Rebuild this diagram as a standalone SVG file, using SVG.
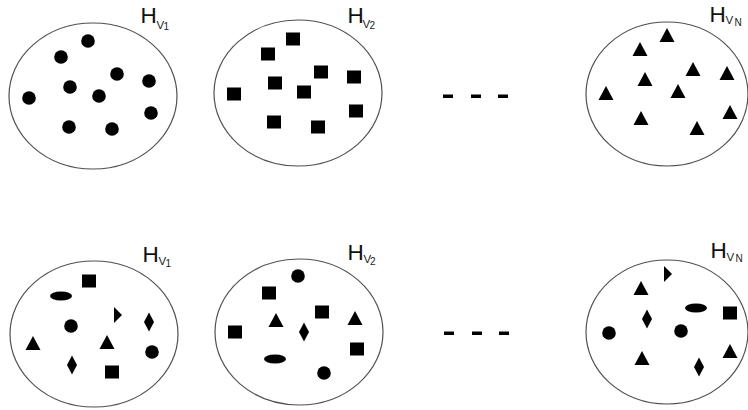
<svg xmlns="http://www.w3.org/2000/svg" xmlns:xlink="http://www.w3.org/1999/xlink" width="748" height="410" viewBox="0 0 748 410">
<style>
.set{fill:#fff;stroke:#505050;stroke-width:1.2}
.h{font-family:"Liberation Sans",Arial,sans-serif;font-size:22.5px;fill:#111}
.v{font-family:"Liberation Sans",Arial,sans-serif;font-size:11.5px;fill:#222}
.s{font-family:"Liberation Sans",Arial,sans-serif;font-size:10px;fill:#222}
.dash{fill:#000}
</style>
<defs>
<circle id="dot" r="6.8" fill="#000"/>
<rect id="sq" x="-7" y="-6.5" width="14" height="13" fill="#000"/>
<polygon id="tri" points="0,-7 7.5,7 -7.5,7" fill="#000"/>
<polygon id="dia" points="0,-9.5 5,0 0,9.5 -5,0" fill="#000"/>
<polygon id="arr" points="-4,-8 4,0 -4,8" fill="#000"/>
<ellipse id="ell" rx="11" ry="4.5" fill="#000"/>
</defs>
<rect width="748" height="410" fill="#fff"/>

<g id="set-top-1">
<ellipse class="set" cx="93" cy="96" rx="84" ry="73"/>
<text class="h" x="140.5" y="23">H</text><text class="v" x="156.5" y="29">V</text><text class="s" x="163.5" y="29.5">1</text>
<use href="#dot" x="88" y="41"/><use href="#dot" x="61" y="57"/><use href="#dot" x="117" y="74"/>
<use href="#dot" x="149" y="81"/><use href="#dot" x="70" y="87"/><use href="#dot" x="99" y="96"/>
<use href="#dot" x="29" y="98"/><use href="#dot" x="151" y="113"/><use href="#dot" x="69" y="127"/>
<use href="#dot" x="112" y="129"/>
</g>

<g id="set-top-2">
<ellipse class="set" cx="298" cy="93" rx="84" ry="73"/>
<text class="h" x="347.5" y="23">H</text><text class="v" x="362.5" y="28">V</text><text class="s" x="369.5" y="28.5">2</text>
<use href="#sq" x="293" y="39"/><use href="#sq" x="268" y="54"/><use href="#sq" x="321" y="72"/>
<use href="#sq" x="354" y="77"/><use href="#sq" x="275" y="83"/><use href="#sq" x="304" y="92"/>
<use href="#sq" x="234" y="94"/><use href="#sq" x="356" y="111"/><use href="#sq" x="274" y="122"/>
<use href="#sq" x="318" y="127"/>
</g>

<g id="set-top-n">
<ellipse class="set" cx="667" cy="94" rx="81" ry="72"/>
<text class="h" x="709.5" y="22">H</text><text class="v" x="725.5" y="24">V</text><text class="s" x="734.5" y="25.5">N</text>
<use href="#tri" x="667" y="35"/><use href="#tri" x="640" y="49"/><use href="#tri" x="693" y="69"/>
<use href="#tri" x="727" y="73"/><use href="#tri" x="645" y="79"/><use href="#tri" x="678" y="91"/>
<use href="#tri" x="606" y="93"/><use href="#tri" x="730" y="112"/><use href="#tri" x="641" y="118"/>
<use href="#tri" x="697" y="128"/>
</g>

<g id="set-bottom-1">
<ellipse class="set" cx="94" cy="334" rx="84" ry="73"/>
<text class="h" x="142.5" y="262">H</text><text class="v" x="158.5" y="265">V</text><text class="s" x="165.5" y="267">1</text>
<use href="#sq" x="89" y="281"/><use href="#ell" x="61" y="296"/><use href="#arr" x="118" y="315"/>
<use href="#dia" x="149" y="322"/><use href="#dot" x="71" y="326"/><use href="#tri" x="33" y="343"/>
<use href="#tri" x="107" y="342"/><use href="#dot" x="152" y="352"/><use href="#dia" x="72" y="365"/>
<use href="#sq" x="112" y="372"/>
</g>

<g id="set-bottom-2">
<ellipse class="set" cx="299" cy="332" rx="84" ry="73"/>
<text class="h" x="347.5" y="260">H</text><text class="v" x="363.5" y="263">V</text><text class="s" x="370" y="265">2</text>
<use href="#dot" x="298" y="276"/><use href="#sq" x="269" y="293"/><use href="#sq" x="322" y="312"/>
<use href="#tri" x="276" y="320"/><use href="#tri" x="355" y="318"/><use href="#dia" x="304" y="332"/>
<use href="#sq" x="235" y="332"/><use href="#sq" x="357" y="349"/><use href="#ell" x="275" y="359"/>
<use href="#dot" x="324" y="373"/>
</g>

<g id="set-bottom-n">
<ellipse class="set" cx="667" cy="332" rx="81" ry="72"/>
<text class="h" x="710.5" y="258">H</text><text class="v" x="726.5" y="260.5">V</text><text class="s" x="735.5" y="262">N</text>
<use href="#arr" x="668" y="274"/><use href="#tri" x="641" y="288"/><use href="#ell" x="696" y="308"/>
<use href="#sq" x="730" y="313"/><use href="#dia" x="647" y="319"/><use href="#dot" x="609" y="333"/>
<use href="#dot" x="681" y="331"/><use href="#tri" x="642" y="358"/><use href="#tri" x="730" y="351"/>
<use href="#dia" x="699" y="367"/>
</g>

<g id="connectors">
<rect class="dash" x="443" y="94.5" width="10" height="3.5"/>
<rect class="dash" x="471" y="94.5" width="10" height="3.5"/>
<rect class="dash" x="498" y="94.5" width="10" height="3.5"/>
<rect class="dash" x="444" y="331.5" width="10" height="3.5"/>
<rect class="dash" x="472" y="331.5" width="10" height="3.5"/>
<rect class="dash" x="499" y="331.5" width="10" height="3.5"/>
</g>
</svg>
